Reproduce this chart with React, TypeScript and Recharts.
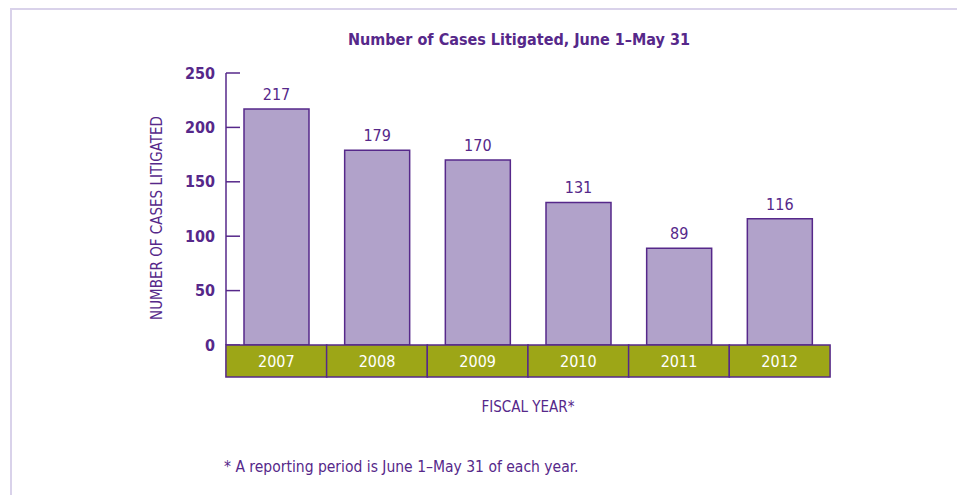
import { BarChart, Bar, XAxis, YAxis, LabelList, Label } from "recharts";

const years = ["2007", "2008", "2009", "2010", "2011", "2012"];
const cases = [217, 179, 170, 131, 89, 116];
const yTicks = [0, 50, 100, 150, 200, 250];

const PURPLE = "#56288a";
const BAR_FILL = "#b1a2ca";
const OLIVE = "#9da617";
const FONT = "'Liberation Sans Narrow', 'DejaVu Sans Condensed', 'Roboto Condensed', sans-serif";

const CHART_W = 957;
const CHART_H = 495;
const PLOT_W = 605;

const data = years.map((year, i) => ({ year, cases: cases[i] }));

function YearTick(props: any) {
  const { x, y, payload } = props;
  const band = PLOT_W / years.length;
  return (
    <g>
      <rect
        x={x - band / 2}
        y={y}
        width={band}
        height={32}
        fill={OLIVE}
        stroke={PURPLE}
        strokeWidth={1.5}
      />
      <text
        x={x}
        y={y + 16}
        textAnchor="middle"
        dominantBaseline="central"
        fill="#ffffff"
        fontSize={16}
        fontFamily={FONT}
      >
        {payload.value}
      </text>
    </g>
  );
}

function YLabel(props: any) {
  const { viewBox } = props;
  const cx = viewBox.x - 9;
  const cy = viewBox.y + viewBox.height / 2 + 9;
  return (
    <text
      x={cx}
      y={cy}
      transform={`rotate(-90, ${cx}, ${cy})`}
      textAnchor="middle"
      dominantBaseline="central"
      fill={PURPLE}
      fontSize={15}
      fontFamily={FONT}
    >
      NUMBER OF CASES LITIGATED
    </text>
  );
}

export default function App() {
  return (
    <div
      style={{
        position: "absolute",
        left: 0,
        top: 0,
        width: CHART_W,
        height: CHART_H,
        background: "#ffffff",
        fontFamily: FONT,
      }}
    >
      <div
        style={{
          position: "absolute",
          left: 10,
          top: 8,
          right: 0,
          bottom: 0,
          borderLeft: "2px solid #d9d2ea",
          borderTop: "2px solid #d9d2ea",
        }}
      />
      <div
        style={{
          position: "absolute",
          left: 0,
          width: 1038,
          top: 30,
          textAlign: "center",
          color: PURPLE,
          fontWeight: "bold",
          fontSize: 16,
        }}
      >
        Number of Cases Litigated, June 1–May 31
      </div>
      <div style={{ position: "absolute", left: 0, top: 0 }}>
        <BarChart
          width={CHART_W}
          height={CHART_H}
          data={data}
          margin={{ top: 73, right: 127, bottom: 118, left: 166 }}
        >
          <XAxis
            dataKey="year"
            height={32}
            axisLine={false}
            tickLine={false}
            tickSize={0}
            tickMargin={0}
            interval={0}
            tick={<YearTick />}
          >
            <Label
              value="FISCAL YEAR*"
              position="bottom"
              offset={24}
              fill={PURPLE}
              fontSize={15}
              fontFamily={FONT}
            />
          </XAxis>
          <YAxis
            width={60}
            domain={[0, 250]}
            ticks={yTicks}
            interval={0}
            axisLine={{ stroke: PURPLE, strokeWidth: 1.5 }}
            tickLine={{ stroke: PURPLE, strokeWidth: 1.5 }}
            tickSize={-14}
            tickMargin={25}
            tick={{ fill: PURPLE, fontSize: 16, fontWeight: "bold", fontFamily: FONT }}
          >
            <Label content={<YLabel />} />
          </YAxis>
          <Bar
            dataKey="cases"
            fill={BAR_FILL}
            stroke={PURPLE}
            strokeWidth={1.5}
            barSize={65}
            isAnimationActive={false}
          >
            <LabelList
              dataKey="cases"
              position="top"
              offset={9}
              fill={PURPLE}
              fontSize={16}
              fontFamily={FONT}
            />
          </Bar>
        </BarChart>
      </div>
      <div
        style={{
          position: "absolute",
          left: 224,
          top: 458,
          color: PURPLE,
          fontSize: 15.5,
        }}
      >
        * A reporting period is June 1–May 31 of each year.
      </div>
    </div>
  );
}
